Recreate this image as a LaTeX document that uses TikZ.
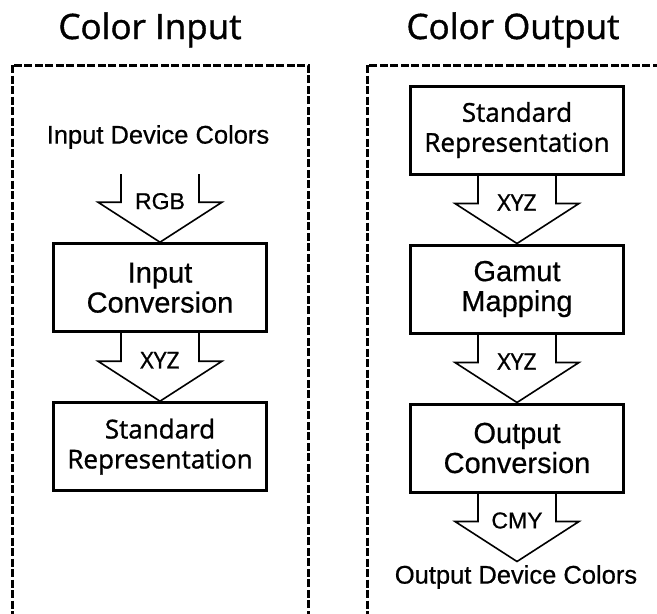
\documentclass[tikz,border=0pt]{standalone}
\usepackage{fontspec}
\setmainfont[FakeBold=0.6]{Liberation Sans}
\newfontfamily\humanist[FakeBold=1.2]{Open Sans}
\usetikzlibrary{positioning}
\tikzstyle{procbox} = [rectangle, draw=black, line width=3pt, minimum width=213pt, minimum height=88pt, text centered, align=center, font=\fontsize{29}{30}\selectfont]
\tikzstyle{stdbox} = [procbox, font=\humanist\fontsize{26}{30}\selectfont]
\tikzstyle{fatline} = [line width=1.6pt, line join=miter]
\tikzstyle{arrowlabel} = [font=\fontsize{23}{25}\selectfont, inner sep=0pt]
\tikzstyle{paneltitle} = [font=\humanist\fontsize{35}{38}\selectfont, anchor=base]
\tikzstyle{devcolors} = [font=\fontsize{25.5}{27}\selectfont]
\tikzstyle{panel} = [draw=black, line width=3pt, dash pattern=on 8pt off 2.5pt]
\tikzstyle{tip} = [inner sep=0pt, minimum size=0pt]

% hollow block arrow: #1 upper node, #2 lower node, #3 label
\newcommand{\fatarrow}[3]{%
\draw [fatline] ([xshift=-39pt]#1.south) -- ++(0,28) -- ++(-23,0) -- (#2.north)
  -- ([xshift=62pt,yshift=-28pt]#1.south) -- ++(-23,0) -- ([xshift=39pt]#1.south);
\node [arrowlabel] at ([yshift=-27pt]#1.south) {#3};}

\begin{document}
\begin{tikzpicture}[x=1pt, y=-1pt]
\useasboundingbox (0,0) rectangle (657,614);
\clip (0,0) rectangle (657,614);

% input side
\node (intitle) [paneltitle] at (150,39) {Color Input};
\draw [panel] (12,65) rectangle (308,640);

\node (idc) [devcolors] at (158,137) {Input Device Colors};
\node (rgbtop) [tip] at (160,174) {};
\node (inconv) [procbox, below=68pt of rgbtop] {Input\\Conversion};
\node (stdin) [stdbox, below=68pt of inconv] {Standard\\Representation};

\fatarrow{rgbtop}{inconv}{RGB}
\fatarrow{inconv}{stdin}{\humanist XYZ}

% output side
\node (outtitle) [paneltitle] at (513,39) {Color Output};
\draw [panel] (367,65) rectangle (700,640);

\node (stdout) [stdbox] at (517,130) {Standard\\Representation};
\node (gamut) [procbox, below=68pt of stdout] {Gamut\\Mapping};
\node (outconv) [procbox, below=68pt of gamut] {Output\\Conversion};
\node (cmytip) [tip, below=68pt of outconv] {};
\node (odc) [devcolors] at (516,577) {Output Device Colors};

\fatarrow{stdout}{gamut}{\humanist XYZ}
\fatarrow{gamut}{outconv}{\humanist XYZ}
\fatarrow{outconv}{cmytip}{CMY}

\end{tikzpicture}
\end{document}
